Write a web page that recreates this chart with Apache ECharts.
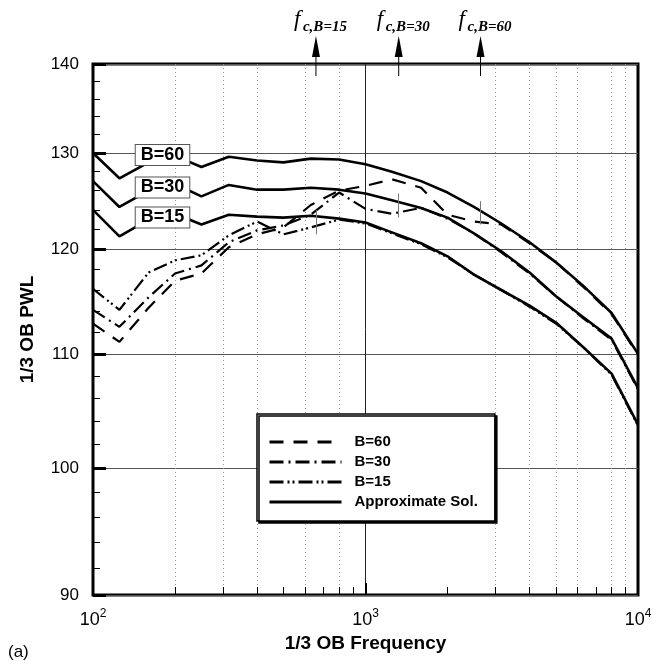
<!DOCTYPE html>
<html><head><meta charset="utf-8">
<script src="https://cdn.jsdelivr.net/npm/echarts@6/dist/echarts.min.js"></script>
<style>html,body{margin:0;padding:0;background:#fff}#c{width:665px;height:667px}</style>
</head><body><div id="c"></div>
<script>
// 1/3 octave band centre frequencies
const freqs = [100,125,160,200,250,315,400,500,630,800,1000,1250,1600,2000,2500,3150,4000,5000,6300,8000,10000];
// Approximate solutions
const approxB60 = [130.0,127.3,129.0,129.7,128.5,129.6,129.2,129.0,129.4,129.3,128.8,128.0,127.0,125.8,124.3,122.6,120.7,118.7,116.4,113.8,110.0];
const approxB30 = [127.0,124.3,126.0,126.7,125.4,126.6,126.1,126.1,126.3,126.1,125.7,125.0,124.2,123.2,121.6,119.8,117.7,115.4,113.4,111.4,106.9];
const approxB15 = [124.0,121.3,123.0,123.6,122.5,123.5,123.3,123.2,123.4,123.1,122.7,121.7,120.6,119.3,117.5,116.0,114.5,112.9,110.6,108.2,103.7];
// Measured / computed curves
const dataB60 = [112.8,111.1,114.3,116.9,117.6,120.2,121.5,122.2,124.5,126.0,126.5,127.2,126.3,123.5,122.8,122.5,120.6,118.7,116.3,113.7,109.9];
const dataB30 = [114.1,112.5,115.3,117.6,118.4,120.7,121.9,122.4,123.5,125.8,124.1,123.6,124.2,123.1,121.6,119.7,117.6,115.4,113.3,111.3,106.8];
const dataB15 = [116.1,114.1,117.7,118.9,119.4,121.4,122.8,121.5,122.2,123.0,122.6,121.6,120.5,119.2,117.5,116.0,114.4,112.8,110.6,108.1,103.6];
// Cut-off frequencies (arrows) and markers on curves
const cutoffFreqs = [658, 1324, 2643];
const cutoffSubs = ['c,B=15', 'c,B=30', 'c,B=60'];
const markerHigh = [124.0, 125.7, 124.9];
const markerLow = [121.5, 123.2, 122.5];
// Axis ticks
const xMajorLabels = [100, 1000, 10000];
const xMinorTicks = [200,300,400,500,600,700,800,900,2000,3000,4000,5000,6000,7000,8000,9000];
const xDottedGrid = [200,300,400,600,800,3000,4000,5000,6000,8000,9000];
const yLabels = [90,100,110,120,130,140];
const yMinorTicks = [92,94,96,98,102,104,106,108,112,114,116,118,122,124,126,128,132,134,136,138];
const curveLabels = ['B=60','B=30','B=15'];

const pairs = arr => freqs.map((f, i) => [f, arr[i]]);
const FONT = 'Liberation Sans, Arial, sans-serif';
const SERIF = 'Liberation Serif, Times New Roman, serif';

const chart = echarts.init(document.getElementById('c'), null, {renderer: 'canvas'});

const approxStyle = {color: '#000', width: 2.6, type: 'solid'};
function approxSeries(arr) {
  return {name: 'Approximate Sol.', type: 'line', data: pairs(arr), symbol: 'none', lineStyle: approxStyle, itemStyle: {color: '#000'}, z: 3, animation: false};
}
function dataSeries(name, arr, dash) {
  return {name: name, type: 'line', data: pairs(arr), symbol: 'none', lineStyle: {color: '#000', width: 2.2, type: dash}, itemStyle: {color: '#000'}, z: 2, animation: false};
}

const markerSeries = {
  name: 'markers', type: 'line', data: [], symbol: 'none', animation: false,
  markLine: {
    silent: true, symbol: ['none', 'none'], label: {show: false},
    lineStyle: {color: '#777', width: 1, type: 'solid'},
    data: cutoffFreqs.map((f, i) => [{coord: [f, markerLow[i]]}, {coord: [f, markerHigh[i]]}])
  }
};

const baseLog = {type: 'log', logBase: 10, min: 100, max: 10000, gridIndex: 0, position: 'bottom'};
const baseLogY = {type: 'log', logBase: 10, min: 90, max: 140, gridIndex: 0, position: 'left'};

chart.setOption({
  animation: false,
  backgroundColor: '#fff',
  grid: {left: 93, right: 27, top: 64, bottom: 72, show: true, borderColor: '#000', borderWidth: 3, backgroundColor: 'transparent'},
  xAxis: [
    Object.assign({}, baseLog, {
      name: '1/3 OB Frequency', nameLocation: 'middle', nameGap: 33,
      nameTextStyle: {fontFamily: FONT, fontWeight: 'bold', fontSize: 19, color: '#000'},
      axisLine: {show: false},
      axisTick: {show: true, inside: true, length: 12, customValues: [1000], lineStyle: {color: '#000', width: 2}},
      axisLabel: {
        customValues: xMajorLabels, margin: 13, color: '#000',
        formatter: v => '{b|10}{e|' + Math.round(Math.log10(v)) + '}',
        rich: {b: {fontFamily: FONT, fontSize: 18, lineHeight: 24, color: '#000'},
               e: {fontFamily: FONT, fontSize: 12, lineHeight: 14, verticalAlign: 'top', color: '#000'}}
      },
      splitLine: {show: true, lineStyle: {color: '#222', width: 1}}
    }),
    Object.assign({}, baseLog, {
      axisLine: {show: false},
      axisTick: {show: true, inside: true, length: 8, customValues: xMinorTicks, lineStyle: {color: '#000', width: 1}},
      axisLabel: {show: false}, splitLine: {show: false}
    }),
    Object.assign({}, baseLog, {
      axisLine: {show: false},
      axisTick: {show: false, customValues: xDottedGrid},
      axisLabel: {show: false},
      splitLine: {show: true, lineStyle: {color: '#999', width: 1, type: [1, 3]}}
    })
  ],
  yAxis: [
    Object.assign({}, baseLogY, {
      name: '1/3 OB PWL', nameLocation: 'middle', nameGap: 56,
      nameTextStyle: {fontFamily: FONT, fontWeight: 'bold', fontSize: 19, color: '#000'},
      axisLine: {show: false},
      axisTick: {show: true, inside: true, length: 13, customValues: yLabels, lineStyle: {color: '#000', width: 3}},
      axisLabel: {customValues: yLabels, margin: 14, fontFamily: FONT, fontSize: 17, color: '#000'},
      splitLine: {show: true, lineStyle: {color: '#555', width: 1}}
    }),
    Object.assign({}, baseLogY, {
      axisLine: {show: false},
      axisTick: {show: true, inside: true, length: 7, customValues: yMinorTicks, lineStyle: {color: '#000', width: 1}},
      axisLabel: {show: false}, splitLine: {show: false}
    })
  ],
  legend: {
    orient: 'vertical', left: 257, top: 414,
    itemWidth: 72, itemHeight: 20, itemGap: 0,
    padding: [18, 17, 9, 11],
    borderColor: '#000', borderWidth: 1.5, backgroundColor: '#fff',
    shadowColor: '#000', shadowOffsetX: 2, shadowOffsetY: 2, shadowBlur: 0,
    selectedMode: false,
    itemStyle: {opacity: 0},
    lineStyle: {width: 3},
    textStyle: {fontFamily: FONT, fontWeight: 'bold', fontSize: 15, color: '#000', lineHeight: 20, padding: [0, 0, 0, 8]},
    data: ['B=60', 'B=30', 'B=15', 'Approximate Sol.'],
    z: 10
  },
  series: [
    dataSeries('B=60', dataB60, [14, 10]),
    dataSeries('B=30', dataB30, [14, 5, 2, 5]),
    dataSeries('B=15', dataB15, [14, 4, 2, 3, 2, 4]),
    approxSeries(approxB60),
    approxSeries(approxB30),
    approxSeries(approxB15),
    markerSeries
  ]
});

// Annotations: arrows for cut-off frequencies, curve labels, panel tag
const g = [];
cutoffFreqs.forEach((f, i) => {
  const px = chart.convertToPixel({xAxisIndex: 0}, f);
  g.push({type: 'line', shape: {x1: px, y1: 76, x2: px, y2: 52}, style: {stroke: '#000', lineWidth: 1}, z: 20});
  g.push({type: 'polygon', shape: {points: [[px - 4, 57], [px + 4, 57], [px, 36]]}, style: {fill: '#000'}, z: 20});
  g.push({type: 'text', x: px - 22, y: 20, style: {text: 'f', font: 'italic 23px ' + SERIF, fill: '#000', verticalAlign: 'middle'}, z: 20});
  g.push({type: 'text', x: px - 13, y: 27, style: {text: cutoffSubs[i], font: 'italic bold 15px ' + SERIF, fill: '#000', verticalAlign: 'middle'}, z: 20});
});
const labelY = [155, 187.5, 217.5];
curveLabels.forEach((t, i) => {
  g.push({type: 'text', x: 162.5, y: labelY[i], z: 20,
    style: {text: t, font: 'bold 18px ' + FONT, fill: '#000', align: 'center', verticalAlign: 'middle',
      backgroundColor: '#fff', borderColor: '#555', borderWidth: 1, padding: [0, 5, 0, 5], lineHeight: 20}});
});
g.push({type: 'text', x: 8, y: 652, style: {text: '(a)', font: '17px ' + FONT, fill: '#000', verticalAlign: 'middle'}, z: 20});
chart.setOption({graphic: g});
</script>
</body></html>
